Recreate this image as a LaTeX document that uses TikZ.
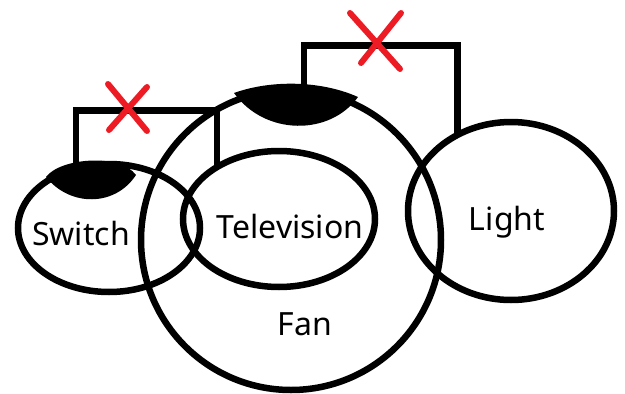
\documentclass[tikz,border=0pt]{standalone}
\usepackage{fontspec}
\setmainfont{Noto Sans}
\usepackage{tikz}
\usetikzlibrary{shapes.geometric}
\definecolor{paintred}{RGB}{237,28,36}

\begin{document}
\begin{tikzpicture}[x=1pt, y=-1pt,
        ring/.style={draw, ellipse, line width=6.5pt, inner sep=0pt, outer sep=0pt},
        wire/.style={draw, line width=6.5pt},
        cross/.style={draw=paintred, line width=6pt, line cap=round},
        lbl/.style={anchor=base, inner sep=0pt, font=\fontsize{32}{38}\selectfont}]
        \useasboundingbox (0,0) rectangle (625,394);

        \node[ring, minimum width=182pt, minimum height=128pt] (switch) at (109,228) {};
        \node[ring, minimum width=300pt, minimum height=300pt] (fan) at (291,240) {};
        \node[ring, minimum width=192pt, minimum height=136pt] (tv) at (279,219) {};
        \node[ring, minimum width=206pt, minimum height=178pt] (light) at (511,211) {};

        \fill (46,177) .. controls (60,158) and (120,153) .. (136,175)
                       .. controls (115,207) and (70,207) .. (46,177);
        \fill (234,93) .. controls (270,80) and (320,80) .. (358,97)
                       .. controls (330,136) and (265,136) .. (234,93);

        \draw[wire] (switch.119) -- ++(0,-58) -| (tv.140);
        \draw[wire] (fan.85) -- ++(0,-45) -| (light.125);

        \draw[cross] (108,84) -- (147,131) (147,87) -- (109,130);
        \draw[cross] (350,13) -- (400,69) (401,13) -- (361,63);

        \node[lbl] (switchlbl) at (81,245) {Switch};
        \node[lbl] (tvlbl) at (290,238) {Television};
        \node[lbl] (lightlbl) at (507,230) {Light};
        \node[lbl] (fanlbl) at (305,335) {Fan};
\end{tikzpicture}
\end{document}
